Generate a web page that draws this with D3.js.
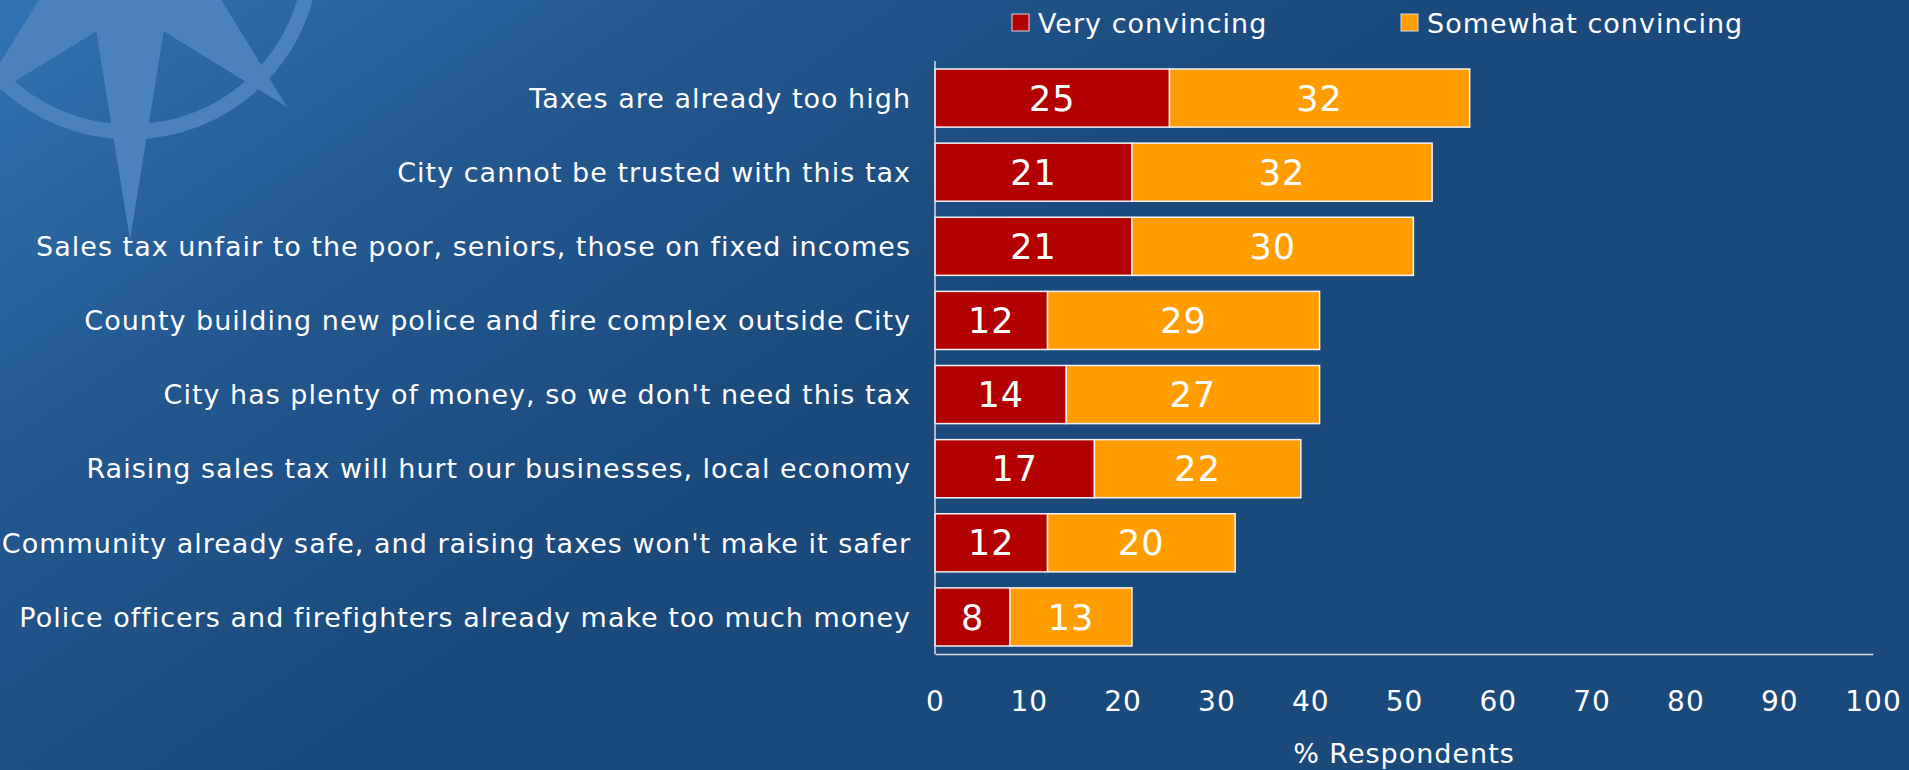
<!DOCTYPE html>
<html>
<head>
<meta charset="utf-8">
<script src="https://cdn.jsdelivr.net/npm/d3@7"></script>
<style>
  html, body { margin: 0; padding: 0; background: #1a4a7c; }
  svg text { font-family: 'DejaVu Sans', Verdana, sans-serif; fill: #fff; letter-spacing: 1px; }
</style>
</head>
<body>
<svg id="chart"></svg>
<script>
'use strict';

const categories = [
  'Taxes are already too high',
  'City cannot be trusted with this tax',
  'Sales tax unfair to the poor, seniors, those on fixed incomes',
  'County building new police and fire complex outside City',
  'City has plenty of money, so we don\'t need this tax',
  'Raising sales tax will hurt our businesses, local economy',
  'Community already safe, and raising taxes won\'t make it safer',
  'Police officers and firefighters already make too much money'
];
const veryConvincing = [25, 21, 21, 12, 14, 17, 12, 8];
const somewhatConvincing = [32, 32, 30, 29, 27, 22, 20, 13];
const seriesNames = ['Very convincing', 'Somewhat convincing'];
const seriesColors = ['#b30000', '#ff9c00'];
const xTicks = [0, 10, 20, 30, 40, 50, 60, 70, 80, 90, 100];
const xTitle = '% Respondents';

const width = 1909;
const height = 770;
const plot = {left: 935, right: 1873, top: 61, bottom: 654};

let svg = d3
  .select('#chart')
  .attr('width', width)
  .attr('height', height);

// background
let defs = svg.append('defs');
let grad = defs
  .append('linearGradient')
  .attr('id', 'bg')
  .attr('x1', '0%')
  .attr('y1', '0%')
  .attr('x2', '100%')
  .attr('y2', '60%');
grad.append('stop').attr('offset', '0%').attr('stop-color', '#3273b2');
grad.append('stop').attr('offset', '28%').attr('stop-color', '#22578f');
grad.append('stop').attr('offset', '55%').attr('stop-color', '#1a4a7c');
grad.append('stop').attr('offset', '100%').attr('stop-color', '#1a4a7c');

svg
  .append('rect')
  .attr('width', width)
  .attr('height', height)
  .attr('fill', 'url(#bg)');

// watermark compass logo in top-left corner
let logo = svg
  .append('g')
  .attr('transform', 'translate(130,-50)')
  .attr('fill', '#4c82bb')
  .attr('stroke', '#4c82bb');

logo
  .append('circle')
  .attr('r', 182)
  .attr('fill', 'none')
  .attr('stroke-width', 15);

let starPts = [];
for (let i = 0; i < 16; i++) {
  let a = Math.PI / 2 + (i * Math.PI) / 8;
  let r;
  if (i % 2 === 1) r = 88;
  else if (i % 4 === 0) r = 290;
  else r = 222;
  starPts.push([r * Math.cos(a), r * Math.sin(a)]);
}
logo
  .append('path')
  .attr('d', d3.line()(starPts) + 'Z')
  .attr('stroke', 'none');

// scales
let x = d3
  .scaleLinear()
  .domain([0, 100])
  .range([plot.left, plot.right]);

let y = d3
  .scaleBand()
  .domain(categories)
  .range([plot.top, plot.bottom])
  .paddingInner(0.216)
  .paddingOuter(0.108);

let rows = categories.map(function(c, i) {
  return {category: c, very: veryConvincing[i], somewhat: somewhatConvincing[i]};
});
let stacked = d3.stack().keys(['very', 'somewhat'])(rows);

// bars
let layers = svg
  .selectAll('g.layer')
  .data(stacked)
  .enter()
  .append('g')
  .attr('class', 'layer')
  .attr('fill', function(d, i) {
    return seriesColors[i];
  });

layers
  .selectAll('rect')
  .data(function(d) {
    return d;
  })
  .enter()
  .append('rect')
  .attr('x', function(d) {
    return x(d[0]);
  })
  .attr('y', function(d) {
    return y(d.data.category);
  })
  .attr('width', function(d) {
    return x(d[1]) - x(d[0]);
  })
  .attr('height', y.bandwidth())
  .attr('stroke', '#f2f2f2')
  .attr('stroke-width', 1.5);

layers
  .selectAll('text')
  .data(function(d) {
    return d;
  })
  .enter()
  .append('text')
  .attr('x', function(d) {
    return (x(d[0]) + x(d[1])) / 2;
  })
  .attr('y', function(d) {
    return y(d.data.category) + y.bandwidth() / 2;
  })
  .attr('dy', '0.36em')
  .attr('text-anchor', 'middle')
  .attr('font-size', '35px')
  .text(function(d) {
    return d[1] - d[0];
  });

// category labels
svg
  .selectAll('text.cat')
  .data(categories)
  .enter()
  .append('text')
  .attr('class', 'cat')
  .attr('x', plot.left - 24)
  .attr('y', function(d) {
    return y(d) + y.bandwidth() / 2;
  })
  .attr('dy', '0.36em')
  .attr('text-anchor', 'end')
  .attr('font-size', '27px')
  .text(function(d) {
    return d;
  });

// axes
let xAxis = svg
  .append('g')
  .attr('transform', 'translate(0,' + plot.bottom + ')')
  .call(
    d3
      .axisBottom(x)
      .tickValues(xTicks)
      .tickSize(0)
      .tickPadding(37)
  );
xAxis.select('.domain').attr('stroke', '#dcdcdc').attr('stroke-width', 1.5);
xAxis
  .selectAll('text')
  .attr('font-size', '28px')
  .attr('font-family', "'DejaVu Sans', Verdana, sans-serif")
  .attr('fill', '#fff');

svg
  .append('line')
  .attr('x1', plot.left)
  .attr('x2', plot.left)
  .attr('y1', plot.top)
  .attr('y2', plot.bottom)
  .attr('stroke', '#dcdcdc')
  .attr('stroke-width', 1.5);

svg
  .append('text')
  .attr('x', (plot.left + plot.right) / 2)
  .attr('y', 763)
  .attr('text-anchor', 'middle')
  .attr('font-size', '27px')
  .text(xTitle);

// legend
let legendX = [1012, 1401];
let legend = svg
  .selectAll('g.legend')
  .data(seriesNames)
  .enter()
  .append('g')
  .attr('class', 'legend')
  .attr('transform', function(d, i) {
    return 'translate(' + legendX[i] + ',14)';
  });

legend
  .append('rect')
  .attr('width', 17)
  .attr('height', 17)
  .attr('fill', function(d, i) {
    return seriesColors[i];
  })
  .attr('stroke', '#d8d8d8')
  .attr('stroke-width', 1);

legend
  .append('text')
  .attr('x', 26)
  .attr('y', 19)
  .attr('font-size', '27px')
  .text(function(d) {
    return d;
  });
</script>
</body>
</html>
